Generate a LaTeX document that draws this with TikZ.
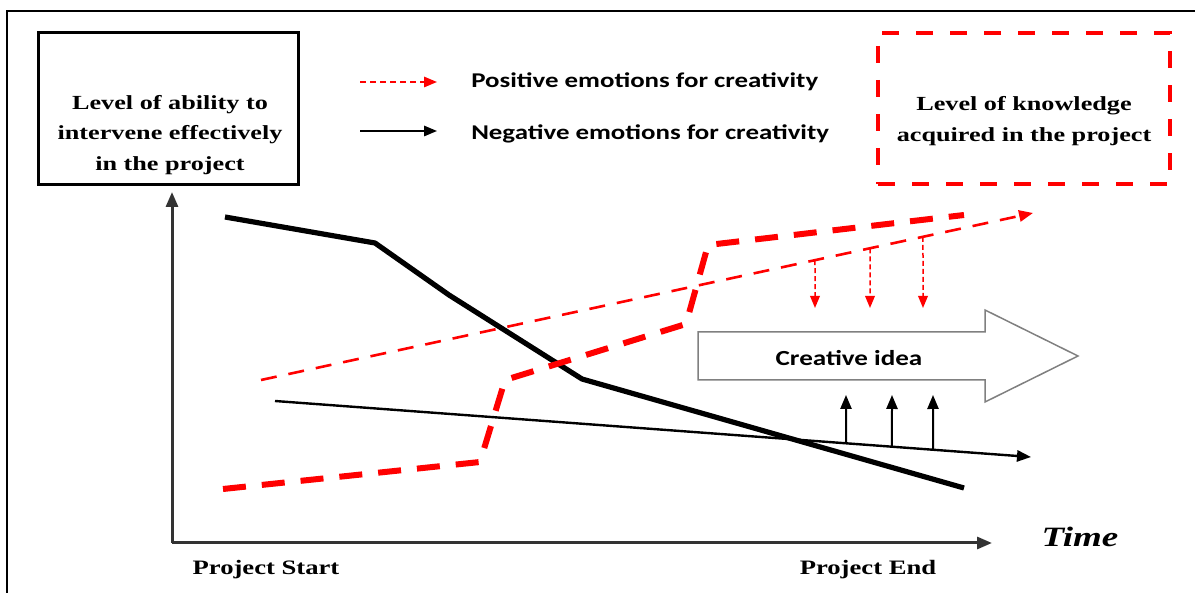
\documentclass[tikz,border=0pt]{standalone}
\usepackage{fontspec}
\setmainfont{Liberation Serif}
\newfontfamily\calfont{Carlito}
\usetikzlibrary{arrows.meta}

\definecolor{axisgray}{HTML}{333333}
\definecolor{ideagray}{HTML}{808080}

\tikzset{
  boxtext/.style={font=\bfseries\fontsize{20}{30.5}\selectfont, align=center, inner sep=0pt, xscale=1.31},
  legtext/.style={font=\calfont\bfseries\fontsize{21}{24}\selectfont, anchor=west, inner sep=0pt, xscale=1.28},
  axistext/.style={font=\bfseries\fontsize{20.5}{24}\selectfont, inner sep=0pt, xscale=1.3},
  posthin/.style={red, line width=2.6pt, dash pattern=on 16pt off 12pt},
  posthick/.style={red, line width=6pt, dash pattern=on 23pt off 16pt},
  negthin/.style={black, line width=2.4pt},
  negthick/.style={black, line width=5.2pt, line join=round},
  tip/.style={-{Triangle[length=#1, width=0.8*#1]}}
}

\begin{document}
\begin{tikzpicture}[x=1pt, y=-1pt]
  \useasboundingbox (0,0) rectangle (1195,593);
  % frame
  \draw[line width=2pt] (7,593) -- (7,11) -- (1195,11);

  % boxes
  \node[draw, line width=3pt, minimum width=260pt, minimum height=152pt] (ability) at (168.5,108.5) {};
  \node[boxtext] (abilitytext) at (170,135) {Level of ability to\\intervene effectively\\in the project};
  \node[draw=red, line width=4pt, dash pattern=on 17pt off 17pt, minimum width=292pt, minimum height=151pt] (knowledge) at (1024,108.5) {};
  \node[boxtext] (knowledgetext) at (1024,121) {Level of knowledge\\acquired in the project};

  % legend
  \coordinate (posA) at (360,82);
  \coordinate (posB) at (437,82);
  \coordinate (negA) at (360,131);
  \coordinate (negB) at (437,131);
  \draw[red, line width=1.8pt, dash pattern=on 6pt off 4pt, tip=13pt] (posA) -- (posB);
  \draw[line width=1.8pt, tip=13pt] (negA) -- (negB);
  \node[legtext] (postext) at (471,82) {Positive emotions for creativity};
  \node[legtext] (negtext) at (471,134) {Negative emotions for creativity};

  % axes
  \coordinate (origin) at (172,543);
  \coordinate (ytop) at (172,192);
  \coordinate (xend) at (992,543);
  \draw[axisgray, line width=3pt, tip=15pt] (origin) -- (ytop);
  \draw[axisgray, line width=3pt, tip=15pt] (origin) -- (xend);
  \node[axistext] (start) at (266,570) {Project Start};
  \node[axistext] (end) at (868,570) {Project End};
  \node[font=\bfseries\itshape\fontsize{28}{30}\selectfont, inner sep=0pt, xscale=1.32] (time) at (1080,537) {Time};

  % ability to intervene
  \draw[negthick] (225,217) -- (375,243) -- (449,295) -- (582,379) -- (964,488);
  \draw[negthin, tip=14pt] (275,401) -- (1031,457)
    coordinate[pos=0.7553] (u1) coordinate[pos=0.8161] (u2) coordinate[pos=0.8704] (u3);

  % knowledge acquired
  \draw[posthick] (223,489) -- (480,462) -- (505,380) -- (686,324) -- (708,245) -- (964,215);
  \draw[posthin, tip=14pt] (261,380) -- (1033,213)
    coordinate[pos=0.7176] (d1) coordinate[pos=0.7889] (d2) coordinate[pos=0.8575] (d3);

  % creative idea
  \draw[ideagray, line width=1.5pt, fill=white] (698,332) -- (985,332) -- (985,310) -- (1078,356)
    -- (985,402) -- (985,380) -- (698,380) -- cycle;
  \node[font=\calfont\bfseries\fontsize{21.5}{24}\selectfont, inner sep=0pt, xscale=1.26] (idea) at (849,358) {Creative idea};

  \coordinate (d1end) at (815,308);
  \coordinate (d2end) at (870,308);
  \coordinate (d3end) at (923,308);
  \foreach \i in {1,2,3}
    \draw[red, line width=1.5pt, dash pattern=on 5pt off 3pt, tip=12pt] (d\i) -- (d\i end);

  \coordinate (u1end) at (846,395);
  \coordinate (u2end) at (892,395);
  \coordinate (u3end) at (933,395);
  \foreach \i in {1,2,3}
    \draw[line width=2pt, tip=14pt] (u\i) -- (u\i end);
\end{tikzpicture}
\end{document}
